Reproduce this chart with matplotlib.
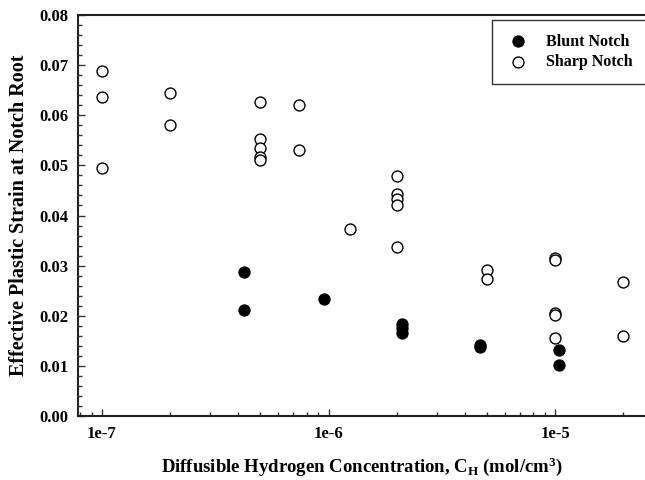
import matplotlib
matplotlib.use("Agg")
import matplotlib.pyplot as plt
from matplotlib.ticker import FixedLocator, FixedFormatter, MultipleLocator, LogLocator, NullFormatter

plt.rcParams['font.family'] = ['Liberation Serif', 'DejaVu Serif']
plt.rcParams['mathtext.fontset'] = 'custom'
plt.rcParams['mathtext.rm'] = 'Liberation Serif'
plt.rcParams['mathtext.bf'] = 'Liberation Serif:bold'
plt.rcParams['mathtext.it'] = 'Liberation Serif:italic'

# Data
blunt_x = [4.25e-7, 4.25e-7, 9.5e-7, 2.1e-6, 2.1e-6, 2.1e-6, 4.65e-6, 4.65e-6, 1.04e-5, 1.04e-5]
blunt_y = [0.0287, 0.0212, 0.0233, 0.0184, 0.0175, 0.0166, 0.0141, 0.0137, 0.0131, 0.0102]

sharp_x = [1e-7, 1e-7, 1e-7, 2e-7, 2e-7, 5e-7, 5e-7, 5e-7, 5e-7, 5e-7, 7.4e-7, 7.4e-7,
           1.24e-6, 2e-6, 2e-6, 2e-6, 2e-6, 2e-6, 5e-6, 5e-6,
           1e-5, 1e-5, 1e-5, 1e-5, 1e-5, 2e-5, 2e-5]
sharp_y = [0.0688, 0.0636, 0.0494, 0.0644, 0.0580, 0.0627, 0.0553, 0.0535, 0.0517, 0.0511,
           0.0620, 0.0530, 0.0374, 0.0479, 0.0443, 0.0432, 0.0421, 0.0337, 0.0291, 0.0273,
           0.0315, 0.0311, 0.0206, 0.0201, 0.0156, 0.0268, 0.0159]

x_ticks = [1e-7, 1e-6, 1e-5]
x_ticklabels = ['1e-7', '1e-6', '1e-5']
y_ticks = [0.00, 0.01, 0.02, 0.03, 0.04, 0.05, 0.06, 0.07, 0.08]
y_ticklabels = ['0.00', '0.01', '0.02', '0.03', '0.04', '0.05', '0.06', '0.07', '0.08']

fig = plt.figure(figsize=(6.45, 4.8), dpi=100)
ax = fig.add_axes([78/645, 64/480, 1 - 78/645, 401/480])

ax.scatter(blunt_x, blunt_y, s=62, facecolor='black', edgecolor='black', linewidths=1.0,
           label='Blunt Notch', zorder=3)
ax.scatter(sharp_x, sharp_y, s=62, facecolor='white', edgecolor='black', linewidths=1.0,
           label='Sharp Notch', zorder=3)

ax.set_xscale('log')
ax.set_xlim(7.84e-8, 2.49e-5)
ax.set_ylim(0.0, 0.08)

ax.xaxis.set_major_locator(FixedLocator(x_ticks))
ax.xaxis.set_major_formatter(FixedFormatter(x_ticklabels))
ax.xaxis.set_minor_locator(LogLocator(base=10, subs=[2, 3, 4, 5, 6, 7, 8, 9], numticks=20))
ax.xaxis.set_minor_formatter(NullFormatter())
ax.yaxis.set_major_locator(FixedLocator(y_ticks))
ax.yaxis.set_major_formatter(FixedFormatter(y_ticklabels))
ax.yaxis.set_minor_locator(MultipleLocator(0.002))

ax.tick_params(which='both', direction='in', top=False, right=False, width=1.0, color='#333333')
ax.tick_params(which='major', length=5, labelsize=12, pad=7)
ax.tick_params(which='minor', length=3)
for lab in ax.get_xticklabels() + ax.get_yticklabels():
    lab.set_fontweight('bold')

ax.spines['right'].set_visible(False)
for s in ['left', 'bottom', 'top']:
    ax.spines[s].set_linewidth(1.5)
    ax.spines[s].set_color('#222222')

ax.set_xlabel(r'Diffusible Hydrogen Concentration, C$_\mathbf{H}$ (mol/cm$^\mathbf{3}$)',
              fontsize=13.5, fontweight='bold')
ax.xaxis.set_label_coords(0.5, -(467 - 416) / 401, transform=ax.transAxes)
ax.xaxis.label.set_va('center')
ax.set_ylabel('Effective Plastic Strain at Notch Root', fontsize=14.5, fontweight='bold')
ax.yaxis.set_label_coords(-(78 - 19) / 567, 0.5, transform=ax.transAxes)
ax.yaxis.label.set_va('center')

leg = ax.legend(loc='upper left', bbox_to_anchor=(492/645, 1 - 20/480), bbox_transform=fig.transFigure,
                frameon=True, fancybox=False, edgecolor='black',
                prop={'weight': 'bold', 'size': 11.5}, handletextpad=0.95, borderpad=0.85,
                labelspacing=0.3, borderaxespad=0, handlelength=1.6)
leg.get_frame().set_linewidth(1.0)

fig.savefig('out.png', dpi=100)
